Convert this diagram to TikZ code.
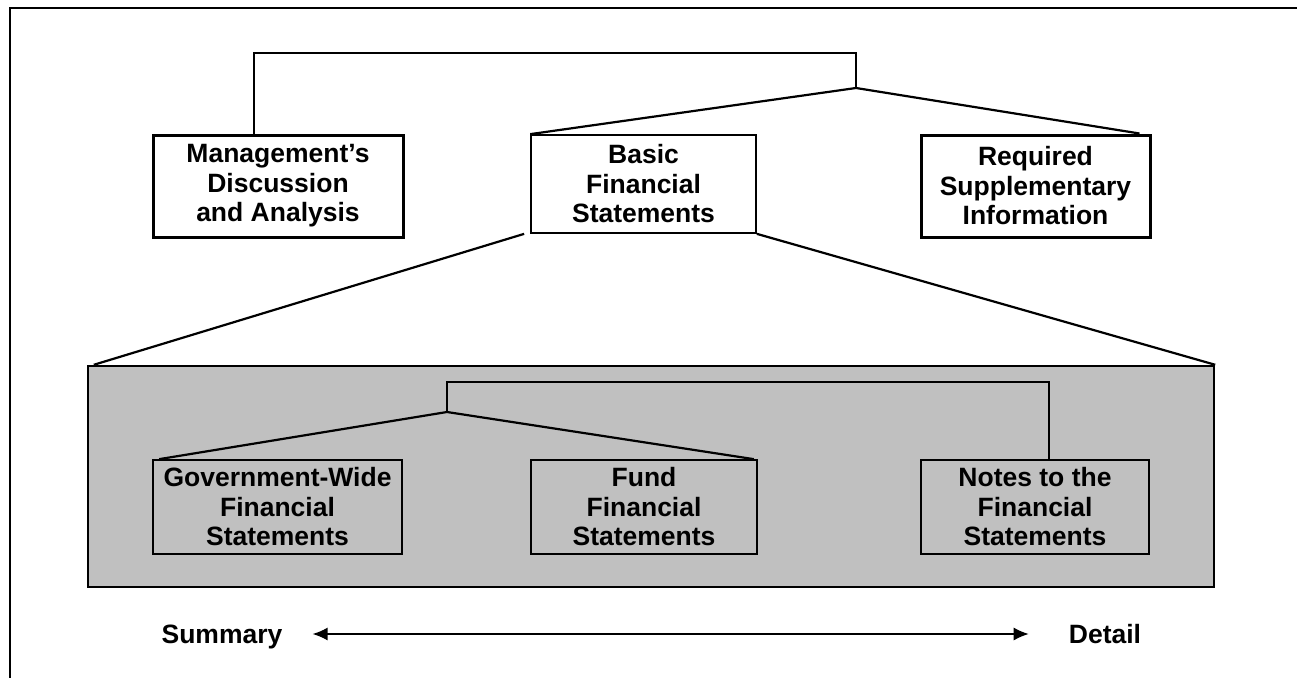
\documentclass[tikz,border=0pt]{standalone}
\usepackage{fontspec}
\setmainfont{Liberation Sans}
\usetikzlibrary{arrows.meta}
\definecolor{panelgrey}{RGB}{192,192,192}

\begin{document}
\begin{tikzpicture}[x=1pt,y=-1pt,
    label text/.style={align=center,inner sep=0pt,font=\bfseries\fontsize{26.5}{29.5}\selectfont},
    part/.style={label text,draw,line width=3pt},
    subpart/.style={label text,draw,line width=1.7pt},
    link/.style={line width=2.2pt,line join=miter}]

  \useasboundingbox (0,0) rectangle (1297,677);
  % page frame, only top and left edges show
  \draw[line width=2.6pt] (10,690) |- (1310,8);

  % top level
  \node[part,minimum width=250,minimum height=102] (mda) at (278,186)
    {Management's\\Discussion\\and Analysis};
  \node[subpart,minimum width=225,minimum height=98] (bfs) at (643.5,184)
    {Basic\\Financial\\Statements};
  \node[part,minimum width=229,minimum height=102] (rsi) at (1035.5,186)
    {Required\\Supplementary\\Information};

  \coordinate (topmid) at (856,53);
  \coordinate (topfork) at (856,88);
  \draw[link] ([xshift=-24pt]mda.north) |- (topmid) -- (topfork);
  \draw[link] (bfs.north west) -- (topfork) -- ([xshift=-12pt]rsi.north east);

  % detail of the basic statements
  \node[draw,fill=panelgrey,line width=2.4pt,minimum width=1126,minimum height=221,inner sep=0pt] (panel) at (651,476.5) {};
  \draw[link] ([xshift=-6pt]bfs.south west) -- ([xshift=7pt]panel.north west);
  \draw[link] (bfs.south east) -- (panel.north east);

  \node[subpart,minimum width=249,minimum height=94] (gov) at (277.5,507)
    {Government-Wide\\Financial\\Statements};
  \node[subpart,minimum width=226,minimum height=94] (fund) at (644,507)
    {Fund\\Financial\\Statements};
  \node[subpart,minimum width=228,minimum height=94] (notes) at (1035,507)
    {Notes to the\\Financial\\Statements};

  \coordinate (innermid) at (447,382);
  \coordinate (innerfork) at (447,412);
  \draw[link] ([xshift=14pt]notes.north) |- (innermid) -- (innerfork);
  \draw[link] ([xshift=7pt]gov.north west) -- (innerfork) -- ([xshift=-4pt]fund.north east);

  % scale underneath
  \node[label text,anchor=base] (summary) at (222,643) {Summary};
  \node[label text,anchor=base] (detail) at (1105,643) {Detail};
  \coordinate (scaleline) at (0,634);
  \draw[line width=1.5pt,{Latex[length=15pt,width=13pt]}-{Latex[length=15pt,width=13pt]}]
    ([xshift=30pt]summary.east |- scaleline) -- ([xshift=-40pt]detail.west |- scaleline);
\end{tikzpicture}
\end{document}
